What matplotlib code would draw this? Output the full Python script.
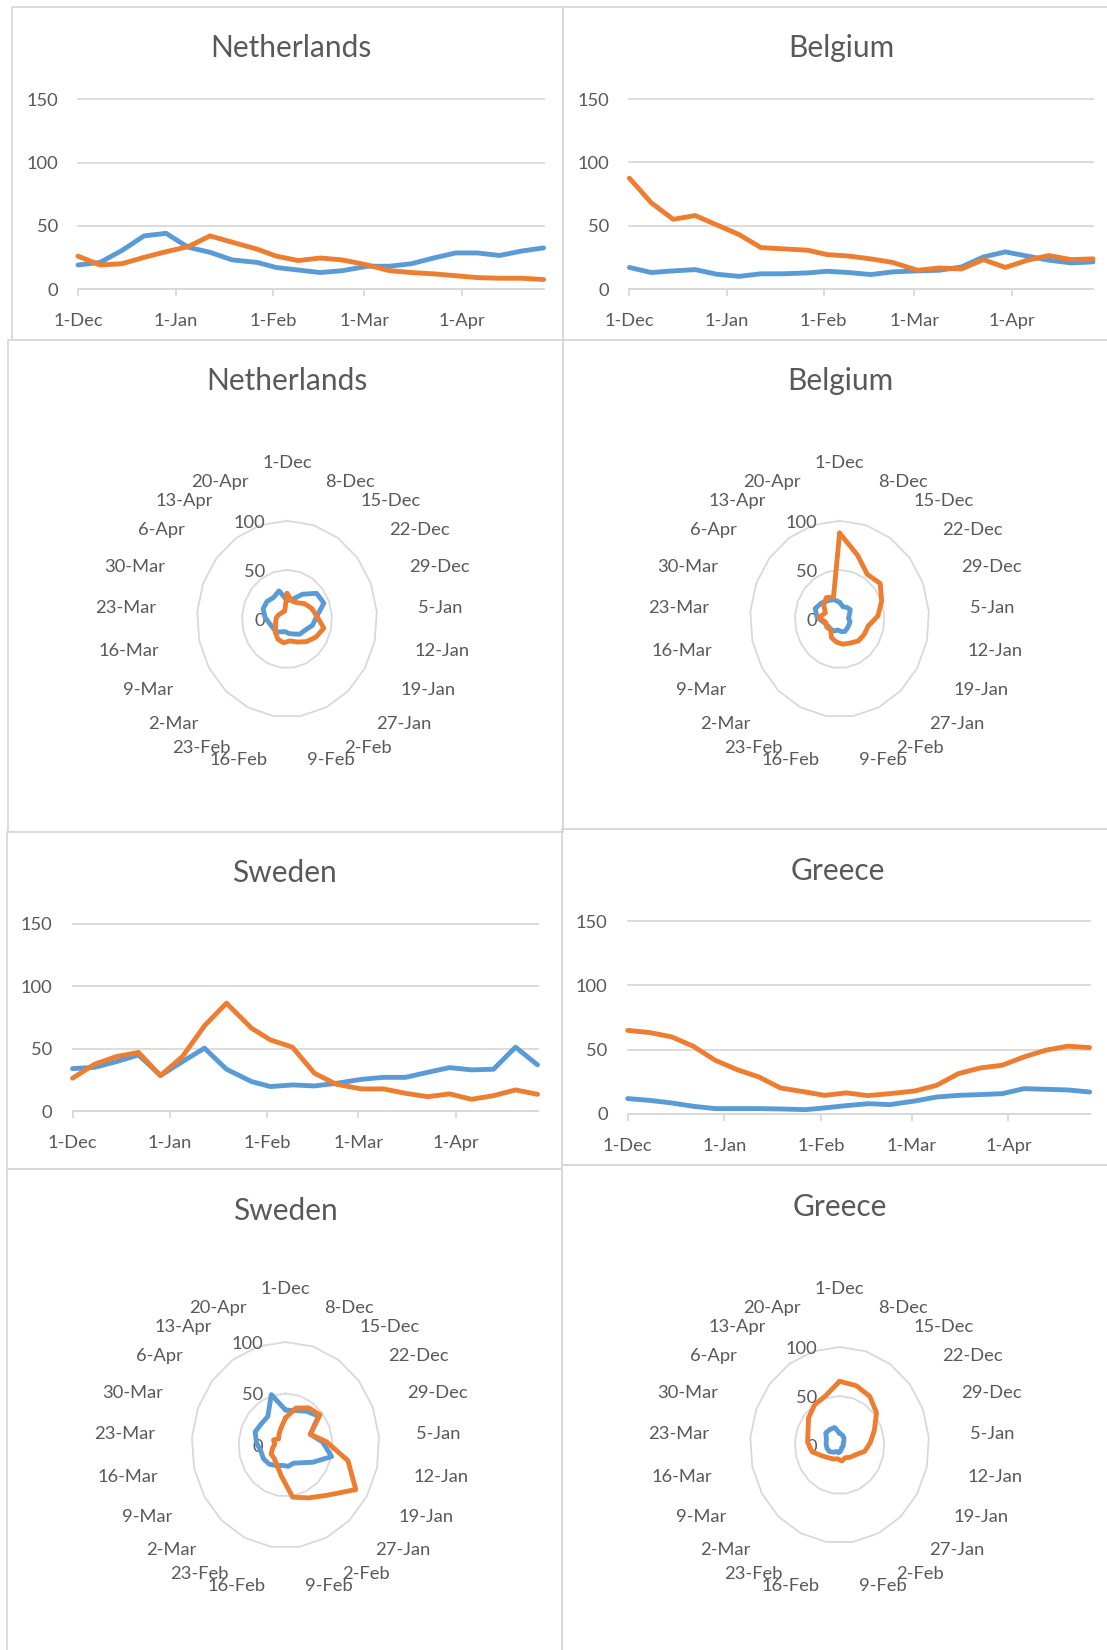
import numpy as np
import matplotlib
matplotlib.use('Agg')
import matplotlib.pyplot as plt
from matplotlib.patches import Rectangle
from datetime import datetime

W, H = 1107, 1650
BLUE = '#5B9BD5'
ORANGE = '#ED7D31'
GRID = '#D9D9D9'
TXT = '#595959'

plt.rcParams['font.family'] = ['Lato', 'DejaVu Sans']

# weekly categories (radar uses these 21, line charts add 27-Apr)
week_labels = ['1-Dec', '8-Dec', '15-Dec', '22-Dec', '29-Dec', '5-Jan', '12-Jan',
               '19-Jan', '27-Jan', '2-Feb', '9-Feb', '16-Feb', '23-Feb', '2-Mar',
               '9-Mar', '16-Mar', '23-Mar', '30-Mar', '6-Apr', '13-Apr', '20-Apr']
line_labels = week_labels + ['27-Apr']
dates = [datetime.strptime(s + ('-2019' if s.endswith('Dec') else '-2020'), '%d-%b-%Y')
         for s in line_labels]
month_ticks = [datetime(2019, 12, 1), datetime(2020, 1, 1), datetime(2020, 2, 1),
               datetime(2020, 3, 1), datetime(2020, 4, 1)]
month_labels = ['1-Dec', '1-Jan', '1-Feb', '1-Mar', '1-Apr']
y_ticks = [0, 50, 100, 150]
radar_ticks = [0, 50, 100]

nl_blue = [19, 21, 30.5, 42, 44, 33, 29, 23, 21, 17, 15, 13, 14.5, 18, 18, 20,
           24.5, 28.5, 28.5, 26.5, 30, 32.5]
nl_orange = [26, 19, 20, 25, 29.5, 33.5, 42, 37, 31.5, 26, 22.5, 24.5, 23, 19,
             14.5, 13, 12, 10.5, 9, 8.5, 8.5, 7.5]
be_blue = [17, 13, 14.3, 15.3, 11.6, 10, 12, 12, 12.7, 14, 13, 11.4, 13.5, 14.3,
           14.8, 17.4, 25.3, 29.3, 26, 22.7, 20.6, 21.4]
be_orange = [87.5, 68, 55, 58, 50.5, 43, 32.7, 31.7, 30.6, 27.2, 26, 23.8, 21,
             14.8, 16.6, 15.8, 23.2, 17, 22.7, 26.4, 23.2, 23.8]
se_blue = [34, 35, 39.6, 45, 28.4, 39.6, 50.4, 33.5, 23.6, 19.6, 20.9, 20.1, 22.2,
           25.4, 27, 27, 31, 34.8, 33, 33.5, 51.2, 37]
se_orange = [26.3, 37.5, 43.7, 47, 28.4, 43.7, 68.3, 86.5, 66.4, 57, 51.2, 30.3,
             21.4, 17.7, 17.7, 14.2, 11.5, 13.7, 9.4, 12.3, 16.9, 13.4]
gr_blue = [12, 10.6, 8.6, 6, 4.2, 4.2, 4.2, 3.9, 3.4, 4.7, 6.5, 8, 7.3, 10.1,
           13.2, 14.5, 15.1, 15.8, 19.7, 19.2, 18.7, 17.1]
gr_orange = [65, 63.3, 60, 52.7, 41.8, 34.5, 28.8, 20.2, 17.1, 14.5, 16.4, 14.3,
             15.8, 17.9, 22.3, 31.4, 35.8, 37.9, 44.4, 49.6, 52.7, 51.6]

fig = plt.figure(figsize=(W / 100, H / 100), dpi=100)


def fx(x):
    return x / W


def fy(y):
    return 1 - y / H


# chart frames, pixel boxes (left, top, right, bottom)
frames = [(12, 7, 563, 340), (563, 7, 1112, 340),
          (8, 340, 563, 832), (563, 340, 1112, 829),
          (7, 832, 562, 1169), (562, 829, 1112, 1165),
          (7, 1169, 562, 1655), (562, 1165, 1112, 1655)]
for x0, y0, x1, y1 in frames:
    fig.add_artist(Rectangle((fx(x0), fy(y1)), (x1 - x0) / W, (y1 - y0) / H,
                             transform=fig.transFigure, facecolor='none',
                             edgecolor=GRID, lw=1.3, zorder=-1))


def line_panel(left, right, y0, y150, title, tx, ty, blue, orange):
    ax = fig.add_axes([fx(left), fy(y0), (right - left) / W, (y0 - y150) / H])
    for vals, c in ((blue, BLUE), (orange, ORANGE)):
        ax.plot(dates, vals, color=c, lw=3.5, solid_capstyle='round',
                solid_joinstyle='round', clip_on=False, zorder=3)
    ax.set_xlim(dates[0], dates[-1])
    ax.set_ylim(0, 150)
    ax.set_yticks(y_ticks)
    ax.yaxis.grid(True, color=GRID, lw=1.3)
    for gl in ax.get_ygridlines():
        gl.set_clip_on(False)
    ax.set_axisbelow(True)
    for s in ('top', 'right', 'left'):
        ax.spines[s].set_visible(False)
    ax.spines['bottom'].set_color(GRID)
    ax.spines['bottom'].set_linewidth(1.3)
    ax.set_xticks(month_ticks)
    ax.set_xticklabels(month_labels)
    ax.tick_params(axis='y', length=0, pad=14.4, labelsize=13.2, labelcolor=TXT)
    ax.tick_params(axis='x', length=4.8, width=1.3, color=GRID, pad=12.3,
                   labelsize=13.2, labelcolor=TXT)
    ax.patch.set_visible(False)
    fig.text(fx(tx), fy(ty), title, ha='center', va='center', fontsize=21.5, color=TXT)


def radar_panel(cx, cy, rx100, ry100, title, tx, ty, blue, orange):
    half = 190
    ax = fig.add_axes([fx(cx - half), fy(cy + half), 2 * half / W, 2 * half / H])
    kx, ky = 100 / rx100, 100 / ry100
    ax.set_xlim(-half * kx, half * kx)
    ax.set_ylim(-half * ky, half * ky)
    ax.axis('off')
    n = len(week_labels)
    theta = np.arange(n) * 2 * np.pi / n
    tc = np.append(theta, theta[0])
    for r in (50, 100):
        ax.plot(r * np.sin(tc), r * np.cos(tc), color=GRID, lw=1.3, zorder=1)
    for vals, c in ((blue, BLUE), (orange, ORANGE)):
        v = np.array(vals[:n] + vals[:1])
        ax.plot(v * np.sin(tc), v * np.cos(tc), color=c, lw=3.5,
                solid_capstyle='round', solid_joinstyle='round', zorder=3)
    for lab, t in zip(week_labels, theta):
        s, c = np.sin(t), np.cos(t)
        if abs(s) < 0.01:
            ax.text(0, 156 * ky, lab, ha='center', va='center', fontsize=13.2, color=TXT)
        else:
            ax.text(131 * kx * s, 143 * ky * c, lab, ha='left' if s > 0 else 'right',
                    va='center', fontsize=13.2, color=TXT)
    for r in radar_ticks:
        ax.text(-22 * kx, r - 2 * ky, str(r), ha='right', va='center', fontsize=13.2,
                color=TXT, zorder=2)
    fig.text(fx(tx), fy(ty), title, ha='center', va='center', fontsize=21.5, color=TXT)


line_panel(78, 543.6, 289, 99.3, 'Netherlands', 291, 48, nl_blue, nl_orange)
line_panel(629.4, 1093, 289, 99, 'Belgium', 841, 48, be_blue, be_orange)
line_panel(72.5, 537.5, 1111, 924, 'Sweden', 284, 873, se_blue, se_orange)
line_panel(627.7, 1089.6, 1114, 921, 'Greece', 838, 871, gr_blue, gr_orange)

radar_panel(287, 619, 90, 98.2, 'Netherlands', 287, 381, nl_blue, nl_orange)
radar_panel(839.6, 619, 89.5, 98.2, 'Belgium', 840, 381, be_blue, be_orange)
radar_panel(285.5, 1445, 93.8, 103, 'Sweden', 285, 1211, se_blue, se_orange)
radar_panel(839.6, 1445, 89.5, 98, 'Greece', 840, 1207, gr_blue, gr_orange)

fig.savefig('out.png', dpi=100, facecolor='white')
